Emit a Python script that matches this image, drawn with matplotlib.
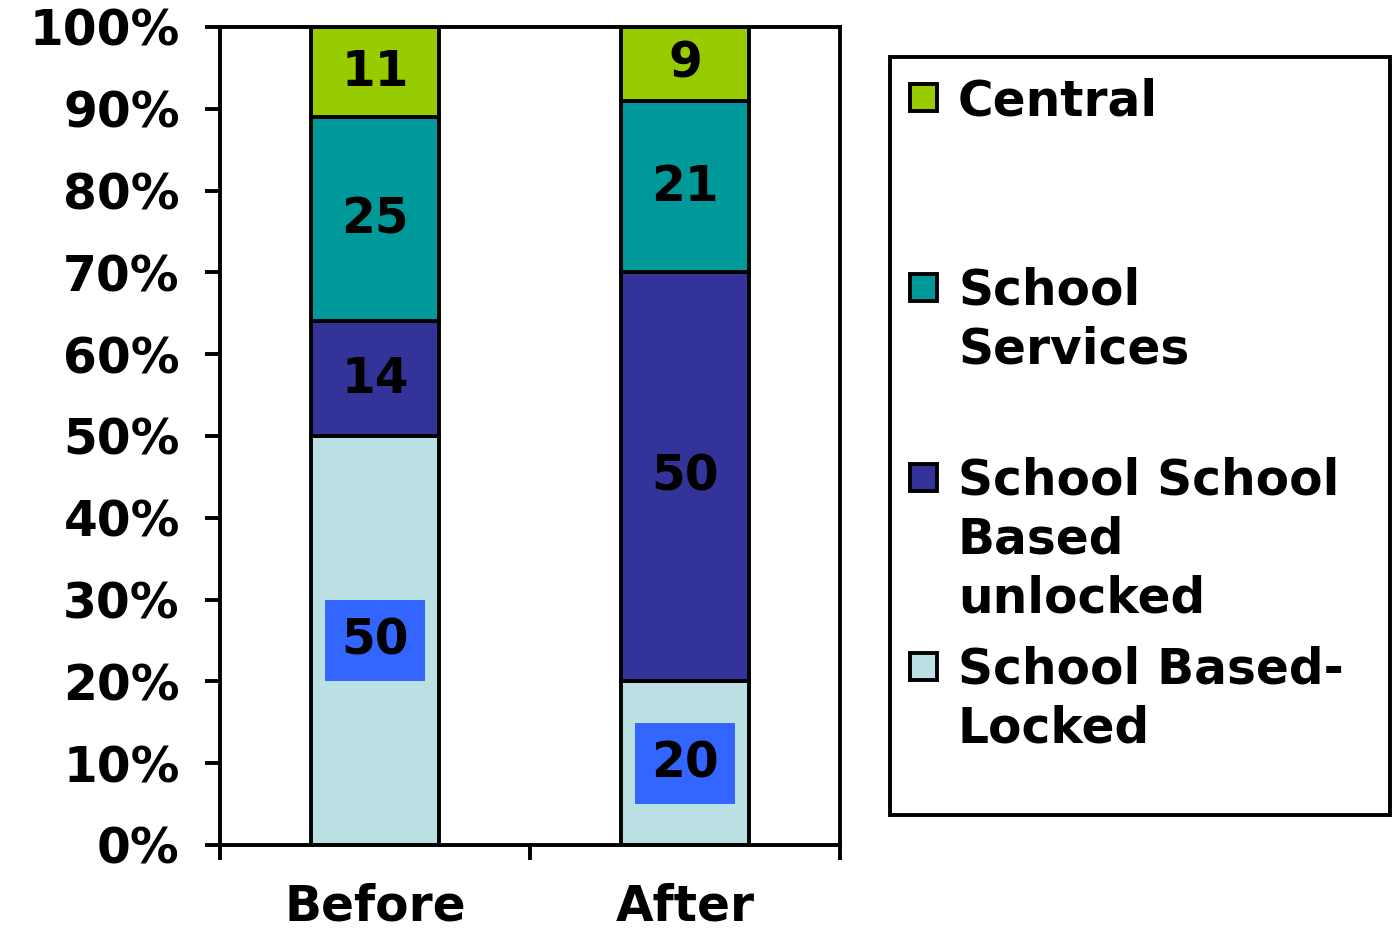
import numpy as np
import matplotlib.pyplot as plt
from matplotlib.patches import Rectangle

plt.rcParams['font.family'] = ['DejaVu Sans']
plt.rcParams['font.weight'] = 'bold'

categories = ['Before', 'After']
series = ['School Based-\nLocked', 'School School\nBased\nunlocked', 'School\nServices', 'Central']
values = [
    [50, 20],   # School Based-Locked
    [14, 50],   # School School Based unlocked
    [25, 21],   # School Services
    [11, 9],    # Central
]
colors = ['#BBE0E3', '#333399', '#009999', '#99CC00']
yticks = np.arange(0, 101, 10)

fs = 35

fig = plt.figure(figsize=(13.92, 9.34), dpi=100)
ax = fig.add_axes([220 / 1392, 1 - 845 / 934, 620 / 1392, 818 / 934])

x = np.arange(len(categories))
bottom = np.zeros(len(categories))
for i, (name, vals) in enumerate(zip(series, values)):
    vals = np.array(vals, dtype=float)
    ax.bar(x, vals, 0.41, bottom=bottom, color=colors[i], edgecolor='black', linewidth=2.8, zorder=2)
    for xi, b, v in zip(x, bottom, vals):
        if i == 0:
            ax.text(xi, b + v / 2, f'{int(v)}', ha='center', va='center', fontsize=fs, fontweight='bold',
                    bbox=dict(boxstyle='square,pad=0.34', fc='#3366FF', ec='none'), zorder=3)
        else:
            ax.text(xi, b + v / 2, f'{int(v)}', ha='center', va='center', fontsize=fs, fontweight='bold', zorder=3)
    bottom += vals

ax.set_xlim(-0.5, 1.5)
ax.set_ylim(0, 100)
ax.set_yticks(yticks)
ax.set_yticklabels([f'{t}%' for t in yticks], fontsize=fs, fontweight='bold')
ax.set_xticks([-0.5, 0.5, 1.5])
ax.set_xticklabels([])
ax.set_xticks(x, minor=True)
ax.set_xticklabels(categories, minor=True, fontsize=fs, fontweight='bold')
ax.tick_params(axis='x', which='major', direction='out', length=11, width=2.8)
ax.tick_params(axis='x', which='minor', length=0, pad=27)
ax.tick_params(axis='y', direction='out', length=11, width=2.8, pad=18)
for s in ax.spines.values():
    s.set_linewidth(2.8)

# legend drawn by hand
fig.patches.append(Rectangle((890 / 1392, 1 - 815 / 934), 500 / 1392, 758 / 934,
                             transform=fig.transFigure, fc='white', ec='black', lw=2.8))
rows_y = [98, 288, 478, 667]
order = [3, 2, 1, 0]
for yy, idx in zip(rows_y, order):
    fig.patches.append(Rectangle((910 / 1392, 1 - (yy + 13) / 934), 27 / 1392, 27 / 934,
                                 transform=fig.transFigure, fc=colors[idx], ec='black', lw=2.8))
    fig.text(958 / 1392, 1 - (yy - 21) / 934, series[idx], ha='left', va='top', fontsize=fs,
             fontweight='bold', linespacing=1.28)

fig.savefig('out.png', dpi=100)
